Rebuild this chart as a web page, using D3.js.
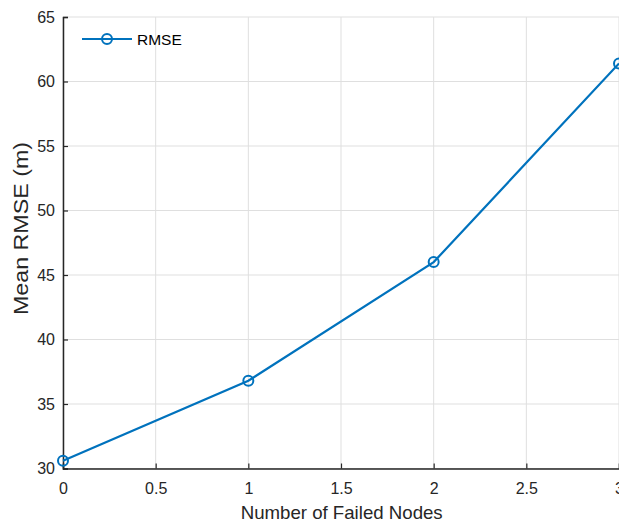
<!DOCTYPE html>
<html>
<head>
<meta charset="utf-8">
<script src="https://cdn.jsdelivr.net/npm/d3@7"></script>
<style>
  html, body { margin: 0; padding: 0; background: #fff; }
  svg { display: block; font-family: "Liberation Sans", Arial, sans-serif; }
</style>
</head>
<body>
<div id="svg-container"></div>
<script>
// data
const failedNodes = [0, 1, 2, 3];
const meanRmse = [30.6, 36.8, 46.0, 61.4];
const xTicks = [0, 0.5, 1, 1.5, 2, 2.5, 3];
const yTicks = [30, 35, 40, 45, 50, 55, 60, 65];
const seriesName = "RMSE";

const width = 619, height = 522;
const margin = { top: 17, right: 0, bottom: 54, left: 63 };
const lineColor = "#0072bd";
const textColor = "#262626";

const svg = d3.select("#svg-container").append("svg")
    .attr("width", width).attr("height", height);

const xScale = d3.scaleLinear().domain([0, 3]).range([margin.left, width - margin.right]);
const yScale = d3.scaleLinear().domain([30, 65]).range([height - margin.bottom + 0.5, margin.top]);

// grid
svg.append("g").selectAll("line")
    .data(xTicks).enter().append("line")
    .attr("x1", (d) => xScale(d)).attr("x2", (d) => xScale(d))
    .attr("y1", yScale(30)).attr("y2", yScale(65))
    .attr("stroke", "#dfdfdf").attr("stroke-width", 1);
svg.append("g").selectAll("line")
    .data(yTicks).enter().append("line")
    .attr("x1", xScale(0)).attr("x2", xScale(3))
    .attr("y1", (d) => yScale(d)).attr("y2", (d) => yScale(d))
    .attr("stroke", "#dfdfdf").attr("stroke-width", 1);

// axes (inward ticks, like matlab)
const xAxis = d3.axisBottom(xScale).tickValues(xTicks).tickSize(-5).tickPadding(14).tickFormat(d3.format("~g"));
const yAxis = d3.axisLeft(yScale).tickValues(yTicks).tickSize(-5).tickPadding(8);

const gx = svg.append("g").attr("transform", `translate(0,${yScale(30)})`).call(xAxis);
const gy = svg.append("g").attr("transform", `translate(${xScale(0)},0)`).call(yAxis);
[gx, gy].forEach((g) => {
    g.select(".domain").attr("stroke", textColor).attr("stroke-width", 1.5);
    g.selectAll(".tick line").attr("stroke", textColor).attr("stroke-width", 1.2);
    g.selectAll(".tick text").attr("fill", textColor).attr("font-size", 16)
        .attr("font-family", "Liberation Sans, Arial, sans-serif");
});

// axis labels
svg.append("text")
    .attr("x", 341.7).attr("y", 519)
    .attr("text-anchor", "middle").attr("fill", textColor).attr("font-size", 18.5)
    .attr("textLength", 202).attr("lengthAdjust", "spacingAndGlyphs")
    .text("Number of Failed Nodes");
svg.append("text")
    .attr("transform", "translate(28,228.5) rotate(-90)")
    .attr("text-anchor", "middle").attr("fill", textColor).attr("font-size", 20)
    .attr("textLength", 173).attr("lengthAdjust", "spacingAndGlyphs")
    .text("Mean RMSE (m)");

// line + markers
const pts = failedNodes.map((d, i) => ({ x: d, y: meanRmse[i] }));
const line = d3.line().x((d) => xScale(d.x)).y((d) => yScale(d.y));
svg.append("path").datum(pts)
    .attr("d", line).attr("fill", "none")
    .attr("stroke", lineColor).attr("stroke-width", 2.2);
svg.selectAll("circle.pt").data(pts).enter().append("circle")
    .attr("class", "pt")
    .attr("cx", (d) => xScale(d.x)).attr("cy", (d) => yScale(d.y))
    .attr("r", 5).attr("fill", "none")
    .attr("stroke", lineColor).attr("stroke-width", 2);

// legend
const lg = svg.append("g").attr("transform", "translate(82,39)");
lg.append("line").attr("x1", 0).attr("x2", 50).attr("y1", 0).attr("y2", 0)
    .attr("stroke", lineColor).attr("stroke-width", 2.2);
lg.append("circle").attr("cx", 25).attr("cy", 0).attr("r", 5)
    .attr("fill", "none").attr("stroke", lineColor).attr("stroke-width", 2);
lg.append("text").attr("x", 55).attr("y", 5.5)
    .attr("fill", "#000").attr("font-size", 15.5).text(seriesName);
</script>
</body>
</html>
